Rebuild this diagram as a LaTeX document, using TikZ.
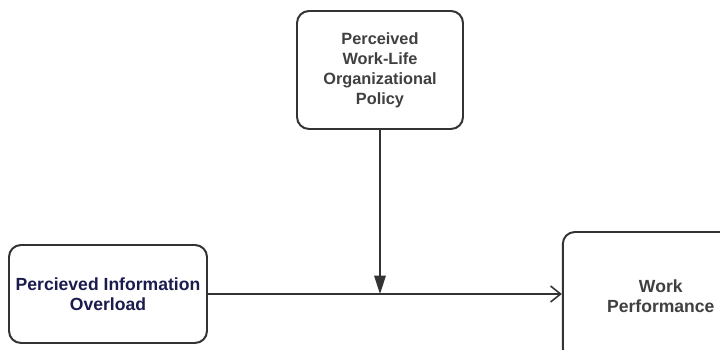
\documentclass[tikz,border=0pt]{standalone}
\usepackage{fontspec}
\setmainfont{Liberation Sans}
\usetikzlibrary{arrows.meta}
\definecolor{boxline}{HTML}{333333}
\definecolor{navytext}{HTML}{1B1B4D}
\definecolor{graytext}{HTML}{404040}
\begin{document}
\begin{tikzpicture}[
    varbox/.style={draw=boxline, line width=1.4pt, rounded corners=0.3cm, fill=white,
        align=center, font=\fontsize{12.5}{14.5}\selectfont\bfseries, text=graytext},
    link/.style={draw=boxline, line width=1.1pt}
    ]
        \clip (0,0) rectangle (18,8.75);
        % Variables
        \node[varbox, minimum width=4.15cm, minimum height=2.95cm,
            font=\fontsize{11.6}{14.3}\selectfont\bfseries] (policy) at (9.5,7.0)
            {Perceived\\Work-Life\\Organizational\\Policy};
        \node[varbox, minimum width=4.95cm, minimum height=2.45cm, text=navytext] (overload) at (2.7,1.4)
            {Percieved Information\\Overload};
        \node[varbox, minimum width=4.9cm, minimum height=3.2cm] (performance) at (16.52,1.35)
            {Work\\Performance};
        
        % Arrows
        \draw[link, -{Straight Barb[length=2.5mm, width=4mm, line width=1.1pt]}] (overload.east) -- (overload.east -| performance.west);
        \coordinate (meet) at (policy.south |- overload.east);
        \draw[link, -{Triangle[length=4.6mm, width=2.9mm]}] (policy.south) -- (meet);
    \end{tikzpicture}
\end{document}
